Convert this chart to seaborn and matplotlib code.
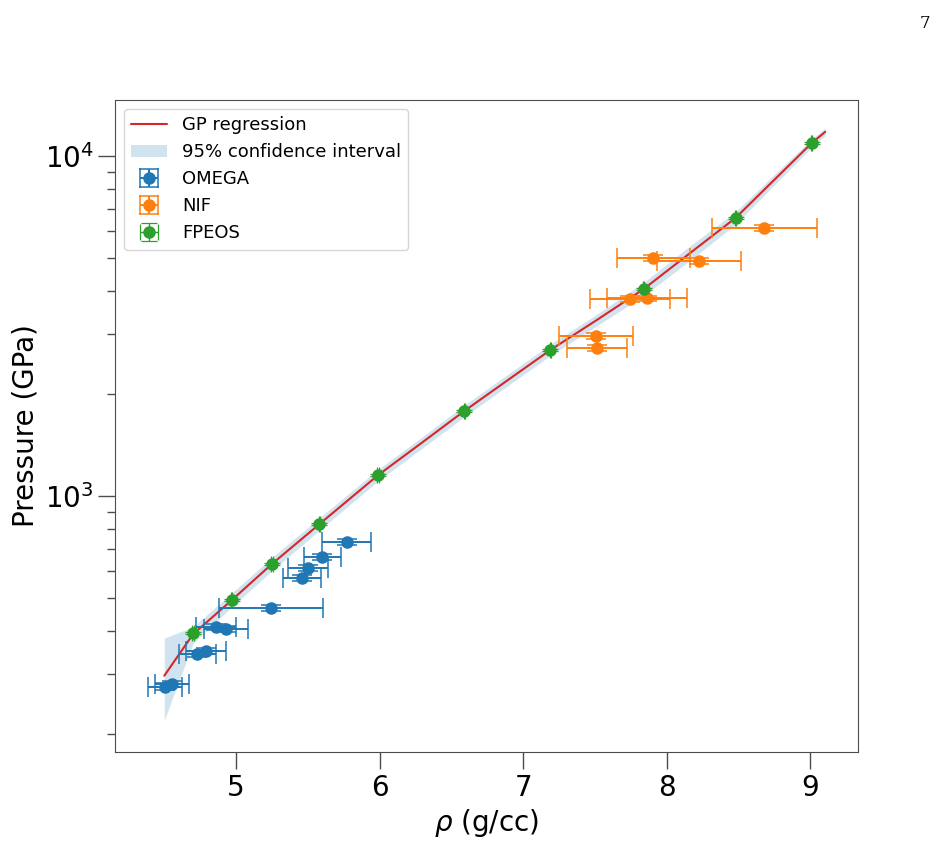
import pandas as pd
import matplotlib
matplotlib.use("Agg")
import matplotlib.pyplot as plt
import matplotlib.ticker as mticker
import seaborn as sns

sns.set_style("ticks")
plt.rcParams['font.family'] = ['DejaVu Sans']
plt.rcParams['axes.edgecolor'] = '0.3'
plt.rcParams['xtick.color'] = '0.3'
plt.rcParams['ytick.color'] = '0.3'
plt.rcParams['xtick.labelcolor'] = 'black'
plt.rcParams['ytick.labelcolor'] = 'black'
plt.rcParams['text.color'] = 'black'
plt.rcParams['axes.labelcolor'] = 'black'

# GP regression curve and its 95% band
gp_x = [4.50, 4.70, 4.97, 5.25, 5.58, 5.99, 6.30, 6.59, 6.90, 7.19, 7.50, 7.84, 8.16, 8.48, 8.75, 9.01, 9.105]
gp_y = [296, 392, 494, 631, 826, 1152, 1440, 1778, 2202, 2688, 3265, 4062, 5170, 6575, 8510, 10910, 11780]
ci_lo = [219, 368, 472, 603, 792, 1108, 1385, 1710, 2120, 2590, 3140, 3880, 4920, 6300, 8220, 10600, 11480]
ci_hi = [382, 412, 518, 660, 862, 1198, 1496, 1850, 2290, 2795, 3395, 4250, 5430, 6860, 8820, 11230, 12090]

# OMEGA
om_x = [4.505, 4.554, 4.73, 4.79, 4.86, 4.93, 5.244, 5.46, 5.50, 5.60, 5.77]
om_y = [275, 280, 343, 350, 412, 406, 469, 574, 614, 662, 732]
om_xerr = [0.12, 0.12, 0.13, 0.14, 0.14, 0.15, 0.36, 0.13, 0.14, 0.13, 0.17]
om_yerr = [6, 6, 7, 7, 8, 8, 9, 11, 12, 13, 15]

# NIF
nif_x = [8.68, 7.906, 8.226, 7.746, 7.864, 7.509, 7.516]
nif_y = [6138, 5014, 4909, 3795, 3810, 2956, 2723]
nif_xerr = [0.365, 0.255, 0.29, 0.28, 0.28, 0.26, 0.21]
nif_yerr = [120, 100, 100, 75, 75, 60, 55]

# FPEOS
fp_x = [4.70, 4.97, 5.25, 5.58, 5.99, 6.59, 7.19, 7.84, 8.48, 9.01]
fp_y = [395, 494, 631, 827, 1153, 1779, 2686, 4064, 6575, 10910]
fp_xerr = [0.005, 0.005, 0.005, 0.005, 0.005, 0.005, 0.005, 0.005, 0.005, 0.005]
fp_yerr = [3, 4, 5, 7, 9, 14, 21, 32, 52, 86]

gp = pd.DataFrame({"rho": gp_x, "P": gp_y, "lo": ci_lo, "hi": ci_hi})

fig = plt.figure(figsize=(9.43, 8.44), dpi=100)
ax = fig.add_axes([0.122, 0.109, 0.788, 0.7725])

band = ax.fill_between(gp["rho"], gp["lo"], gp["hi"], color="tab:blue", alpha=0.2,
                       linewidth=0, label="95% confidence interval")
sns.lineplot(data=gp, x="rho", y="P", color="tab:red", linewidth=1.5, ax=ax,
             label="GP regression", sort=False)

eb_kw = dict(fmt="o", markersize=8, capsize=7, elinewidth=1.4, capthick=1.1)
e1 = ax.errorbar(om_x, om_y, xerr=om_xerr, yerr=om_yerr, color="tab:blue", label="OMEGA", **eb_kw)
e2 = ax.errorbar(nif_x, nif_y, xerr=nif_xerr, yerr=nif_yerr, color="tab:orange", label="NIF", **eb_kw)
e3 = ax.errorbar(fp_x, fp_y, xerr=fp_xerr, yerr=fp_yerr, color="tab:green", label="FPEOS",
                 fmt="o", markersize=8, capsize=6, elinewidth=1.0, capthick=0.9)

ax.set_yscale("log")
ax.set_xlim(4.157, 9.334)
ax.set_ylim(176.6, 14610)
ax.set_xticks([5, 6, 7, 8, 9])
ax.yaxis.set_minor_formatter(mticker.NullFormatter())
ax.tick_params(axis="both", which="major", length=12, width=1, labelsize=20)
ax.tick_params(axis="y", which="minor", length=6, width=1)
ax.set_xlabel(r"$\rho$ (g/cc)", fontsize=20)
ax.set_ylabel("Pressure (GPa)", fontsize=20)

line = ax.get_lines()[0]
ax.legend([line, band, e1, e2, e3],
          ["GP regression", "95% confidence interval", "OMEGA", "NIF", "FPEOS"],
          loc="upper left", fontsize=13)

fig.text(0.986, 0.982, "7", family="serif", fontsize=12, ha="right", va="top")

fig.savefig("out.png", dpi=100)
